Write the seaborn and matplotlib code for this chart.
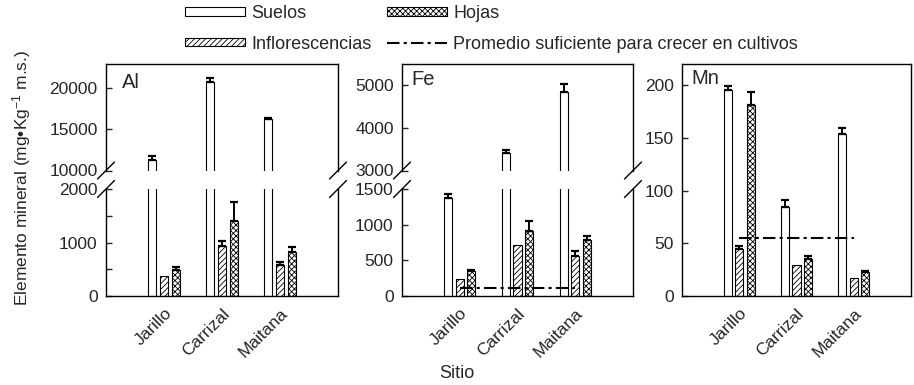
import numpy as np
import pandas as pd
import matplotlib
matplotlib.use("Agg")
import matplotlib.pyplot as plt
import seaborn as sns
from matplotlib.patches import Patch
from matplotlib.lines import Line2D

# ---------------- data ----------------
sites = ["Jarillo", "Carrizal", "Maitana"]
tissues = ["Suelos", "Inflorescencias", "Hojas"]

al_suelos = [11300, 20800, 16300]
al_suelos_err = [500, 500, 80]
al_infl = [375, 940, 580]
al_infl_err = [0, 80, 60]
al_hojas = [490, 1395, 820]
al_hojas_err = [50, 360, 90]

fe_suelos = [1370, 3410, 4840]
fe_suelos_err = [60, 80, 180]
fe_infl = [245, 710, 560]
fe_infl_err = [0, 0, 65]
fe_hojas = [350, 905, 780]
fe_hojas_err = [20, 150, 55]
fe_promedio = 115

mn_suelos = [195, 84, 154]
mn_suelos_err = [4, 7, 5]
mn_infl = [45, 29, 17]
mn_infl_err = [2, 0, 0]
mn_hojas = [181, 35, 23]
mn_hojas_err = [12, 2.5, 1]
mn_promedio = 55

al_upper_ticks = [10000, 15000, 20000]
al_lower_ticks = [0, 1000, 2000]
al_lower_minor = [500, 1500]
fe_upper_ticks = [3000, 4000, 5000]
fe_lower_ticks = [0, 500, 1000, 1500]
mn_ticks = [0, 50, 100, 150, 200]

legend_labels = ["Suelos", "Inflorescencias", "Hojas",
                 "Promedio suficiente para crecer en cultivos"]


def make_df(s, se, i, ie, h, he):
    rows = []
    for vals, errs, t in ((s, se, "Suelos"), (i, ie, "Inflorescencias"), (h, he, "Hojas")):
        for site, v, e in zip(sites, vals, errs):
            rows.append({"Sitio": site, "Tejido": t, "valor": v, "err": e})
    return pd.DataFrame(rows)


df_al = make_df(al_suelos, al_suelos_err, al_infl, al_infl_err, al_hojas, al_hojas_err)
df_fe = make_df(fe_suelos, fe_suelos_err, fe_infl, fe_infl_err, fe_hojas, fe_hojas_err)
df_mn = make_df(mn_suelos, mn_suelos_err, mn_infl, mn_infl_err, mn_hojas, mn_hojas_err)

# ---------------- style ----------------
sns.set_style("white")
plt.rcParams["font.family"] = ["Liberation Sans", "DejaVu Sans"]
plt.rcParams["mathtext.fontset"] = "custom"
plt.rcParams["mathtext.rm"] = "Liberation Sans"
plt.rcParams["mathtext.it"] = "Liberation Sans:italic"
plt.rcParams["mathtext.default"] = "regular"
plt.rcParams["hatch.linewidth"] = 0.6
plt.rcParams["axes.linewidth"] = 1.0
plt.rcParams["axes.edgecolor"] = "black"

W, H = 914, 385
fig = plt.figure(figsize=(W / 100, H / 100), dpi=100)


def ax_px(x0, x1, ytop, ybot):
    return fig.add_axes([x0 / W, 1 - ybot / H, (x1 - x0) / W, (ybot - ytop) / H])


hatches = {"Suelos": "", "Inflorescencias": "//////", "Hojas": "xxxxxx"}
avg_style = (0, (6, 2, 1.5, 2))
TICK_FS = 12.5


def draw_bars(ax, df):
    sns.barplot(data=df, x="Sitio", y="valor", hue="Tejido", order=sites,
                hue_order=tissues, palette=["white"] * 3, edgecolor="black",
                linewidth=0.8, width=0.6, gap=0.3, errorbar=None,
                legend=False, ax=ax)
    for p in ax.patches:
        cx = p.get_x() + p.get_width() / 2
        si = int(round(cx))
        ti = int(round((cx - si) / 0.2)) + 1
        tissue = tissues[ti]
        p.set_hatch(hatches[tissue])
        row = df[(df.Tejido == tissue) & (df.Sitio == sites[si])].iloc[0]
        if row.err > 0:
            ax.errorbar(cx, row.valor, yerr=[[0], [row.err]], fmt="none",
                        ecolor="black", elinewidth=1.4, capsize=3, capthick=1.6)
    ax.set_xlim(-1, 3)
    ax.set_xlabel("")
    ax.set_ylabel("")


def style_y(ax, ticks, lim, minor=None):
    ax.set_ylim(*lim)
    ax.set_yticks(ticks)
    ax.set_yticklabels([str(t) for t in ticks])
    if minor:
        ax.set_yticks(minor, minor=True)
    ax.tick_params(axis="y", which="both", direction="in", length=4, width=1,
                   pad=6, labelsize=TICK_FS, left=True)


def style_x_bottom(ax):
    ax.set_xticks(range(len(sites)))
    ax.set_xticklabels(sites, rotation=45, ha="right", rotation_mode="anchor",
                       fontsize=TICK_FS)
    ax.tick_params(axis="x", length=0, pad=7)


def hide_x(ax):
    ax.set_xticks([])
    ax.tick_params(axis="x", length=0)


def slash(x, y, d=8.5):
    fig.add_artist(Line2D([(x - d) / W, (x + d) / W], [1 - (y + d) / H, 1 - (y - d) / H],
                          transform=fig.transFigure, color="black", lw=1.0))


Y_TOP, Y_BREAK_UP, Y_BREAK_LO, Y_BOT = 64, 170.5, 189, 296

# ---------- Al ----------
al_up = ax_px(106, 338, Y_TOP, Y_BREAK_UP)
al_lo = ax_px(106, 338, Y_BREAK_LO, Y_BOT)
for a in (al_up, al_lo):
    draw_bars(a, df_al)
style_y(al_up, al_upper_ticks, (10000, 22950))
style_y(al_lo, al_lower_ticks, (0, 2000), minor=al_lower_minor)
al_up.spines["bottom"].set_visible(False)
al_lo.spines["top"].set_visible(False)
hide_x(al_up)
style_x_bottom(al_lo)
al_up.text(0.07, 0.92, "Al", transform=al_up.transAxes, fontsize=14.5, va="top", ha="left")

# ---------- Fe ----------
fe_up = ax_px(402, 633, Y_TOP, Y_BREAK_UP)
fe_lo = ax_px(402, 633, Y_BREAK_LO, Y_BOT)
for a in (fe_up, fe_lo):
    draw_bars(a, df_fe)
style_y(fe_up, fe_upper_ticks, (3000, 5490))
style_y(fe_lo, fe_lower_ticks, (0, 1500))
fe_up.spines["bottom"].set_visible(False)
fe_lo.spines["top"].set_visible(False)
hide_x(fe_up)
style_x_bottom(fe_lo)
fe_lo.hlines(fe_promedio, 0, len(sites) - 1, colors="black", linestyles=avg_style, lw=1.5, zorder=5)
fe_up.text(0.04, 0.94, "Fe", transform=fe_up.transAxes, fontsize=14.5, va="top", ha="left")

# ---------- Mn ----------
mn = ax_px(682, 911, Y_TOP, Y_BOT)
draw_bars(mn, df_mn)
style_y(mn, mn_ticks, (0, 220))
style_x_bottom(mn)
mn.hlines(mn_promedio, 0, len(sites) - 1, colors="black", linestyles=avg_style, lw=1.5, zorder=5)
mn.text(0.04, 0.98, "Mn", transform=mn.transAxes, fontsize=14.5, va="top", ha="left")

# break marks
for xs in (106, 338, 402, 633):
    slash(xs, Y_BREAK_UP)
    slash(xs, Y_BREAK_LO)

# legend
handles = [
    Patch(facecolor="white", edgecolor="black", lw=0.8),
    Patch(facecolor="white", edgecolor="black", lw=0.8, hatch=hatches["Inflorescencias"]),
    Patch(facecolor="white", edgecolor="black", lw=0.8, hatch=hatches["Hojas"]),
    Line2D([], [], color="black", lw=1.5, linestyle=avg_style),
]
fig.legend(handles, legend_labels, ncol=2, loc="upper left",
           bbox_to_anchor=(185 / W, 1 - 5 / H), frameon=False, fontsize=13,
           handlelength=3.3, handleheight=0.35, handletextpad=0.35,
           columnspacing=0.9, labelspacing=0.75, borderpad=0, borderaxespad=0)

fig.text(22 / W, 1 - 178 / H, "Elemento mineral (mg•Kg$^{-1}$ m.s.)", rotation=90,
         ha="center", va="center", fontsize=12.5)
fig.text(457 / W, 1 - 373 / H, "Sitio", ha="center", va="center", fontsize=13)

fig.savefig("out.png", dpi=100)
